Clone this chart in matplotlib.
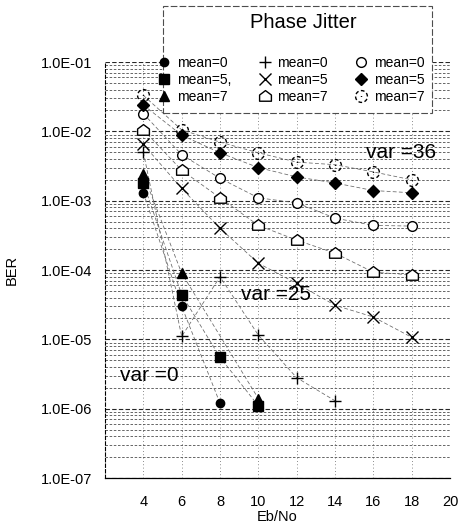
import numpy as np
import matplotlib
matplotlib.use("Agg")
import matplotlib.pyplot as plt
from matplotlib.path import Path
from matplotlib.patches import Rectangle
from matplotlib.ticker import LogLocator, NullFormatter

plt.rcParams['font.family'] = ['Liberation Sans', 'DejaVu Sans']

nan = np.nan
ebno = [4, 6, 8, 10, 12, 14, 16, 18]

# var = 0
v0_m0 = [1.3e-3, 3.0e-5, 1.2e-6, nan, nan, nan, nan, nan]
v0_m5 = [1.8e-3, 4.4e-5, 5.5e-6, 1.1e-6, nan, nan, nan, nan]
v0_m7 = [2.4e-3, 9.0e-5, nan, 1.4e-6, nan, nan, nan, nan]
# var = 25
v25_m0 = [5.0e-3, 1.1e-5, 8.0e-5, 1.15e-5, 2.8e-6, 1.3e-6, nan, nan]
v25_m5 = [6.5e-3, 1.5e-3, 4.0e-4, 1.25e-4, 6.4e-5, 3.1e-5, 2.1e-5, 1.07e-5]
v25_m7 = [1.05e-2, 2.75e-3, 1.1e-3, 4.4e-4, 2.7e-4, 1.75e-4, 9.3e-5, 8.5e-5]
# var = 36
v36_m0 = [1.8e-2, 4.6e-3, 2.1e-3, 1.1e-3, 9.3e-4, 5.6e-4, 4.4e-4, 4.3e-4]
v36_m5 = [2.4e-2, 8.8e-3, 4.9e-3, 3.0e-3, 2.2e-3, 1.8e-3, 1.4e-3, 1.3e-3]
v36_m7 = [3.3e-2, 1.05e-2, 7.0e-3, 4.9e-3, 3.6e-3, 3.3e-3, 2.6e-3, 2.0e-3]

labels = ["mean=0", "mean=5,", "mean=7",
          "mean=0", "mean=5", "mean=7",
          "mean=0", "mean=5", "mean=7"]
xticks = [4, 6, 8, 10, 12, 14, 16, 18, 20]
yticks = [1e-7, 1e-6, 1e-5, 1e-4, 1e-3, 1e-2, 1e-1]
ytick_labels = ["1.0E-07", "1.0E-06", "1.0E-05", "1.0E-04",
                "1.0E-03", "1.0E-02", "1.0E-01"]

# custom markers
house = Path([(-1, -0.8), (1, -0.8), (1, 0.25), (0, 1), (-1, 0.25), (-1, -0.8)],
             [Path.MOVETO, Path.LINETO, Path.LINETO, Path.LINETO, Path.LINETO, Path.CLOSEPOLY])
verts, codes = [], []
n_seg = 6
for i in range(n_seg):
    a0 = 2 * np.pi * i / n_seg
    a1 = a0 + 2 * np.pi / n_seg * 0.6
    ts = np.linspace(a0, a1, 6)
    for j, t in enumerate(ts):
        verts.append((np.cos(t), np.sin(t)))
        codes.append(Path.MOVETO if j == 0 else Path.LINETO)
verts.append((0, 0.08)); codes.append(Path.MOVETO)
verts.append((0, -0.08)); codes.append(Path.LINETO)
dashed_circle = Path(verts, codes)

series = [
    (v0_m0, dict(marker='o', ms=6, mfc='black', mec='black')),
    (v0_m5, dict(marker='s', ms=7, mfc='black', mec='black')),
    (v0_m7, dict(marker='^', ms=7.5, mfc='black', mec='black')),
    (v25_m0, dict(marker='+', ms=8.5, mfc='black', mec='black', mew=1.0)),
    (v25_m5, dict(marker='x', ms=8, mfc='black', mec='black', mew=1.0)),
    (v25_m7, dict(marker=house, ms=8.5, mfc='white', mec='black', mew=1.0)),
    (v36_m0, dict(marker='o', ms=7, mfc='white', mec='black', mew=1.0)),
    (v36_m5, dict(marker='D', ms=6.5, mfc='black', mec='black')),
    (v36_m7, dict(marker=dashed_circle, ms=8.5, mfc='none', mec='black', mew=1.0)),
]

fig = plt.figure(figsize=(4.6, 5.3), dpi=100)
ax = fig.add_axes([105 / 460, 1 - 478 / 530, 345 / 460, 416 / 530])
ax.set_yscale('log')
ax.set_xlim(2, 20)
ax.set_ylim(1e-7, 1e-1)

handles = []
for vals, st in series:
    y = np.array(vals, dtype=float)
    x = np.array(ebno, dtype=float)
    m = ~np.isnan(y)
    ax.plot(x[m], y[m], color='0.4', lw=0.55, ls=(0, (5, 3)), zorder=3)
    h, = ax.plot(x[m], y[m], linestyle='none', zorder=4, **st)
    handles.append(h)

ax.set_xticks(xticks)
ax.set_xticklabels([str(t) for t in xticks], fontsize=10.5)
ax.set_yticks(yticks)
ax.set_yticklabels(ytick_labels, fontsize=10.5)
ax.yaxis.set_minor_locator(LogLocator(base=10, subs=np.arange(2, 10)))
ax.yaxis.set_minor_formatter(NullFormatter())
ax.tick_params(axis='x', which='both', length=0, pad=12)
ax.tick_params(axis='y', which='both', length=0, pad=9)

ax.grid(True, axis='y', which='major', color='0.15', lw=0.8, ls=(0, (4, 2)))
ax.grid(True, axis='y', which='minor', color='0.3', lw=0.6, ls=(0, (3, 2)))
ax.grid(True, axis='x', which='major', color='0.4', lw=0.6, ls=(0, (1, 3)))
ax.set_axisbelow(True)
for s in ['top', 'right']:
    ax.spines[s].set_visible(False)
ax.spines['left'].set_linewidth(0.8)
ax.spines['left'].set_linestyle((0, (3, 2)))
ax.spines['bottom'].set_linewidth(0.9)

ax.set_xlabel("Eb/No", fontsize=10.5)
ax.xaxis.set_label_coords(0.5, -0.077)
ax.set_ylabel("BER", fontsize=10.5)
ax.yaxis.set_label_coords(-0.25, 0.5)

ax.text(15.6, 5.0e-3, "var =36", fontsize=15, ha='left', va='center', zorder=5)
ax.text(10.9, 4.4e-5, "var =25", fontsize=15, ha='center', va='center', zorder=5)
ax.text(4.3, 3.0e-6, "var =0", fontsize=15, ha='center', va='center', zorder=5)

# legend box (white, dashed frame) and title
box = Rectangle((163 / 460, 1 - 113 / 530), (432 - 163) / 460, (113 - 6) / 530,
                transform=fig.transFigure, facecolor='white', edgecolor='0.3',
                lw=0.8, ls=(0, (6, 2)), zorder=1)
fig.add_artist(box)
fig.text(303 / 460, 1 - 23 / 530, "Phase Jitter", fontsize=14.5,
         ha='center', va='center', zorder=6)

leg = fig.legend(handles, labels, ncol=3, loc='upper left',
                 bbox_to_anchor=(152 / 460, 1 - 50 / 530),
                 fontsize=10, frameon=False,
                 handlelength=1.0, handletextpad=0.4, columnspacing=1.9,
                 labelspacing=0.22, borderpad=0.4, borderaxespad=0)
leg.set_zorder(6)

fig.savefig("out.png", dpi=100)
